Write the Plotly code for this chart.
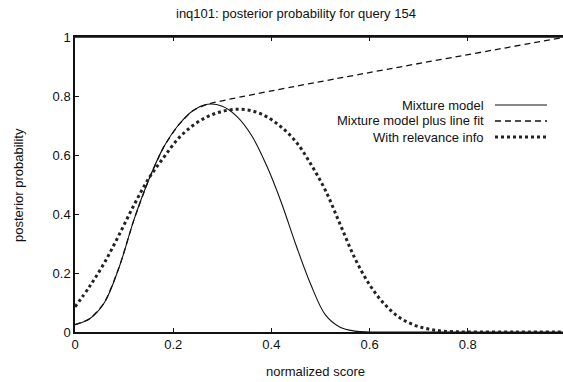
import plotly.graph_objects as go

# Data
mix_x = [0.0, 0.03, 0.06, 0.09, 0.12, 0.15, 0.18, 0.21, 0.24, 0.27, 0.30, 0.33,
         0.36, 0.39, 0.42, 0.45, 0.48, 0.51, 0.54, 0.57, 0.60, 0.7, 0.8, 0.9, 1.0]
mix_y = [0.025, 0.045, 0.1, 0.22, 0.38, 0.515, 0.625, 0.70, 0.75, 0.772, 0.765, 0.73,
         0.665, 0.565, 0.44, 0.295, 0.162, 0.058, 0.016, 0.003, 0.0, 0.0, 0.0, 0.0, 0.0]

fit_x = [0.0, 0.03, 0.06, 0.09, 0.12, 0.15, 0.18, 0.21, 0.24, 0.27, 1.0]
fit_y = [0.025, 0.045, 0.1, 0.22, 0.38, 0.515, 0.625, 0.70, 0.75, 0.772, 1.0]

rel_x = [0.0, 0.03, 0.06, 0.09, 0.12, 0.15, 0.18, 0.21, 0.24, 0.27, 0.30, 0.33, 0.36,
         0.39, 0.42, 0.45, 0.48, 0.51, 0.54, 0.57, 0.60, 0.63, 0.66, 0.69, 0.72, 0.75,
         0.8, 0.9, 1.0]
rel_y = [0.085, 0.155, 0.235, 0.33, 0.43, 0.52, 0.59, 0.655, 0.70, 0.73, 0.748, 0.755, 0.75,
         0.73, 0.695, 0.645, 0.57, 0.48, 0.365, 0.25, 0.16, 0.095, 0.05, 0.024, 0.01, 0.003,
         0.0, 0.0, 0.0]

x_ticks = [0, 0.2, 0.4, 0.6, 0.8]
x_tick_labels = ["0", "0.2", "0.4", "0.6", "0.8"]
y_ticks = [0, 0.2, 0.4, 0.6, 0.8, 1]
y_tick_labels = ["0", "0.2", "0.4", "0.6", "0.8", "1"]

legend_names = ["Mixture model", "Mixture model plus line fit", "With relevance info"]

W, H = 563, 382
ML, MT, MB = 75, 37, 50
PW = W - ML
PH = H - MT - MB
FONT = "Liberation Sans, Arial, sans-serif"

fig = go.Figure()
fig.add_trace(go.Scatter(x=mix_x, y=mix_y, mode="lines",
                         line=dict(color="#111", width=1.1, shape="spline", smoothing=1.0),
                         showlegend=False))
fig.add_trace(go.Scatter(x=fit_x, y=fit_y, mode="lines",
                         line=dict(color="#111", width=1.3, dash="6px,4px", shape="spline", smoothing=0.6),
                         showlegend=False))
fig.add_trace(go.Scatter(x=rel_x, y=rel_y, mode="lines",
                         line=dict(color="#222", width=3, dash="3px,3px", shape="spline", smoothing=1.0),
                         showlegend=False))

def px2paper_x(px):
    return (px - ML) / PW

def py2paper_y(py):
    return (H - MB - py) / PH

annotations = []
shapes = []
# top border
shapes.append(dict(type="line", xref="paper", yref="paper", x0=0, x1=1, y0=1, y1=1,
                   line=dict(color="#111", width=1.5)))

legend_rows = [105, 121, 137]
legend_styles = [dict(color="#111", width=1.1),
                 dict(color="#111", width=1.3, dash="6px,4px"),
                 dict(color="#222", width=3, dash="3px,3px")]
for name, ry, st in zip(legend_names, legend_rows, legend_styles):
    annotations.append(dict(text=name, xref="paper", yref="paper", x=px2paper_x(486), y=py2paper_y(ry),
                            xanchor="right", yanchor="middle", showarrow=False,
                            font=dict(family=FONT, size=13, color="#111")))
    shapes.append(dict(type="line", xref="paper", yref="paper", x0=px2paper_x(495), x1=px2paper_x(547),
                       y0=py2paper_y(ry), y1=py2paper_y(ry), line=st))

annotations.append(dict(text="inq101: posterior probability for query 154", xref="paper", yref="paper",
                        x=px2paper_x(296), y=py2paper_y(14), xanchor="center", yanchor="middle", showarrow=False,
                        font=dict(family=FONT, size=13, color="#111")))
annotations.append(dict(text="normalized score", xref="paper", yref="paper",
                        x=px2paper_x(315), y=py2paper_y(371), xanchor="center", yanchor="middle", showarrow=False,
                        font=dict(family=FONT, size=13, color="#111")))
annotations.append(dict(text="posterior probability", xref="paper", yref="paper", textangle=-90,
                        x=px2paper_x(18), y=py2paper_y(185), xanchor="center", yanchor="middle", showarrow=False,
                        font=dict(family=FONT, size=13, color="#111")))

fig.update_layout(
    width=W, height=H,
    margin=dict(l=ML, r=0, t=MT, b=MB, pad=0),
    paper_bgcolor="white", plot_bgcolor="white",
    annotations=annotations, shapes=shapes,
    showlegend=False,
    xaxis=dict(range=[0, PW / 491.0], tickvals=x_ticks, ticktext=x_tick_labels,
               ticks="inside", ticklen=4, tickcolor="#111", showline=True, linecolor="#111", linewidth=1.5,
               mirror="ticks", showgrid=False, zeroline=False,
               tickfont=dict(family=FONT, size=13, color="#111")),
    yaxis=dict(range=[0, 1], tickvals=y_ticks, ticktext=y_tick_labels,
               ticks="inside", ticklen=4, tickcolor="#111", showline=True, linecolor="#111", linewidth=1.5,
               showgrid=False, zeroline=False,
               tickfont=dict(family=FONT, size=13, color="#111")),
)

fig.write_html("out.html")
